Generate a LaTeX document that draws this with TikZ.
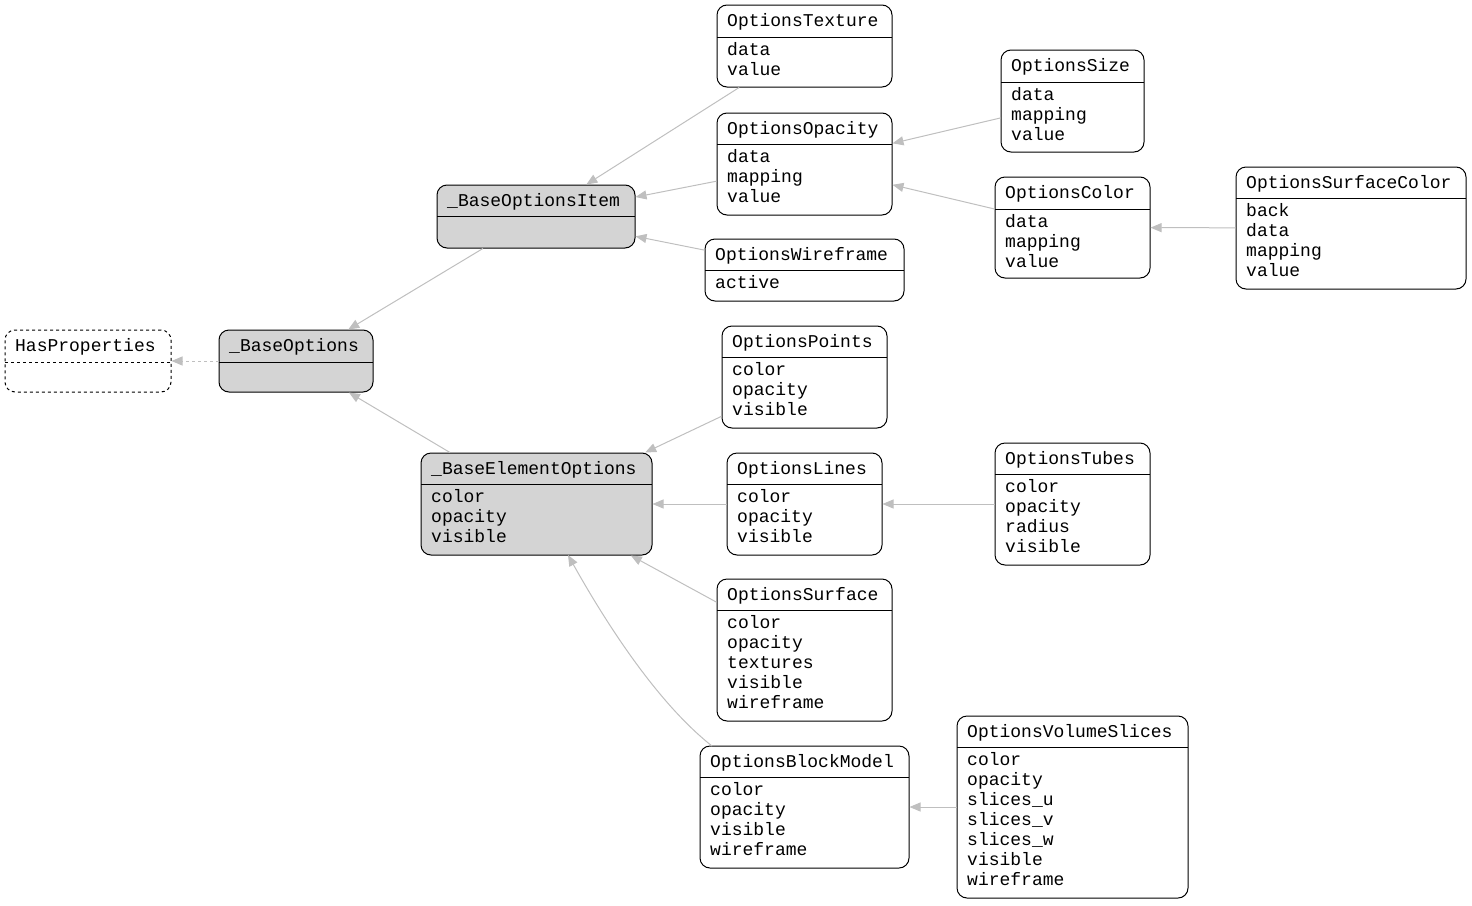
\documentclass[tikz,border=0pt]{standalone}
\usepackage{fontspec}
\setmonofont{Liberation Mono}
\usetikzlibrary{arrows.meta}
\newcommand\umlbox[9]{%
  \node[box,#9,minimum width={(#4-#2)*1pt},minimum height={(#5-#3)*1pt}] (#1) at ({(#2+#4)/2},{-(#3+#5)/2}) {};
  \draw[#9,fill=none,line width=1pt] (#2,-#6) -- (#4,-#6);
  \node[txt] at (#2+10,-#3-21) {#7};
  \foreach \t [count=\i] in {#8} \node[txt] at (#2+10,-#6-20*\i+2) {\t};
}
\begin{document}
\begin{tikzpicture}[x=1pt,y=1pt,
  box/.style={draw=black,rounded corners=10pt,line width=1pt,inner sep=0pt},
  base/.style={fill=black!17},
  plain/.style={},
  dsh/.style={dashed},
  txt/.style={anchor=base west,inner sep=0pt,font=\ttfamily\fontsize{18}{20}\selectfont},
  edge/.style={draw=black!25,line width=1pt,-{Triangle[length=11pt,width=9pt]},shorten >=0pt}]
\useasboundingbox (0,0) rectangle (1472,-905);
\umlbox{hp}{5}{330}{171}{392}{362}{HasProperties}{}{dsh}
\umlbox{bo}{219}{330}{373}{392}{362}{\_BaseOptions}{}{base}
\umlbox{boi}{437}{185}{635}{248}{216}{\_BaseOptionsItem}{}{base}
\umlbox{beo}{421}{453}{652}{555}{484}{\_BaseElementOptions}{color,opacity,visible}{base}
\umlbox{tex}{717}{5}{892}{87}{37}{OptionsTexture}{data,value}{plain}
\umlbox{opa}{717}{113}{892}{215}{144}{OptionsOpacity}{data,mapping,value}{plain}
\umlbox{wir}{705}{239}{904}{301}{270}{OptionsWireframe}{active}{plain}
\umlbox{siz}{1001}{50}{1144}{152}{82}{OptionsSize}{data,mapping,value}{plain}
\umlbox{col}{995}{177}{1150}{278}{209}{OptionsColor}{data,mapping,value}{plain}
\umlbox{sc}{1236}{167}{1466}{289}{198}{OptionsSurfaceColor}{back,data,mapping,value}{plain}
\umlbox{pts}{722}{326}{887}{428}{357}{OptionsPoints}{color,opacity,visible}{plain}
\umlbox{lin}{727}{453}{882}{555}{484}{OptionsLines}{color,opacity,visible}{plain}
\umlbox{tub}{995}{443}{1150}{565}{474}{OptionsTubes}{color,opacity,radius,visible}{plain}
\umlbox{sur}{717}{579}{892}{721}{610}{OptionsSurface}{color,opacity,textures,visible,wireframe}{plain}
\umlbox{bm}{700}{746}{909}{868}{777}{OptionsBlockModel}{color,opacity,visible,wireframe}{plain}
\umlbox{vs}{957}{716}{1188}{898}{747}{OptionsVolumeSlices}{color,opacity,slices\_u,slices\_v,slices\_w,visible,wireframe}{plain}
\draw[edge,dashed] (bo) -- (hp);
\draw[edge] (boi) -- (bo);
\draw[edge] (beo) -- (bo);
\draw[edge] (tex) -- (boi);
\draw[edge] (opa) -- (boi);
\draw[edge] (wir) -- (boi);
\draw[edge] (siz) -- (opa);
\draw[edge] (col) -- (opa);
\draw[edge] (sc) -- (col);
\draw[edge] (pts) -- (beo);
\draw[edge] (lin) -- (beo);
\draw[edge] (tub) -- (lin);
\draw[edge] (sur) -- (beo);
\coordinate (bmx) at (712,-746);
\coordinate (beoT) at (568,-555);
\draw[edge] (bmx) .. controls (660,-705) and (610,-630) .. (beoT);
\draw[edge] (vs) -- (bm);
\end{tikzpicture}
\end{document}
